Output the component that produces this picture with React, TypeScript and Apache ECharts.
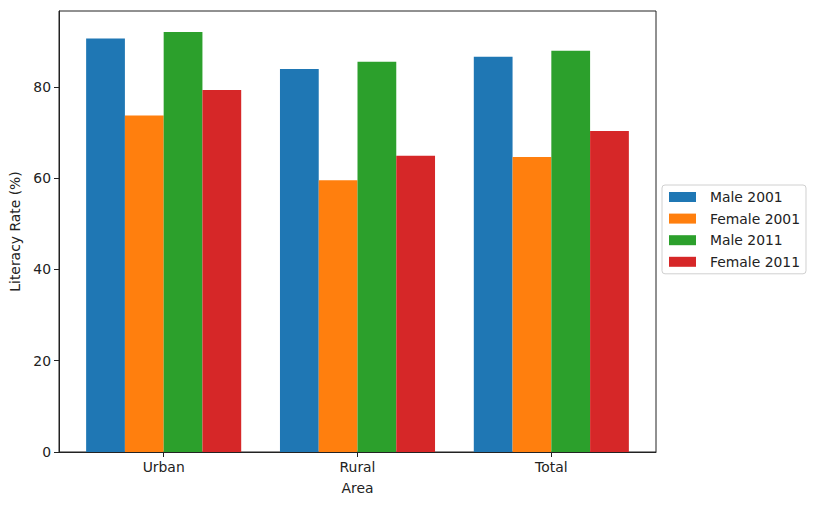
import React, { useEffect, useRef } from "react";
import * as echarts from "echarts";

const categories = ["Urban", "Rural", "Total"];
const seriesNames = ["Male 2001", "Female 2001", "Male 2011", "Female 2011"];
const male2001 = [90.6, 83.9, 86.6];
const female2001 = [73.7, 59.5, 64.6];
const male2011 = [92.0, 85.5, 87.9];
const female2011 = [79.3, 64.9, 70.3];
const yTicks = [0, 20, 40, 60, 80];
const colors = ["#1f77b4", "#ff7f0e", "#2ca02c", "#d62728"];

const FONT = "DejaVu Sans";

export default function App() {
  const ref = useRef<HTMLDivElement>(null);
  useEffect(() => {
    if (!ref.current) return;
    const chart = echarts.init(ref.current, null, { renderer: "svg" });
    const all = [male2001, female2001, male2011, female2011];
    const xIdx = categories.map((_, i) => i);
    const plotW = 597;
    const barW = (0.2 * plotW) / 3.08;
    chart.setOption({
      animation: false,
      textStyle: { fontFamily: FONT },
      grid: {
        left: 59,
        right: 162,
        top: 11,
        bottom: 55,
        show: true,
        borderColor: "#222",
        borderWidth: 1,
        backgroundColor: "transparent",
      },
      legend: {
        orient: "vertical",
        left: 662,
        top: 185,
        data: seriesNames,
        icon: "rect",
        itemWidth: 27,
        itemHeight: 10,
        itemGap: 7.6,
        padding: [5, 6, 5, 7],
        borderColor: "#d0d0d0",
        borderWidth: 1,
        borderRadius: 3,
        backgroundColor: "#fff",
        textStyle: { fontFamily: FONT, fontSize: 13.9, color: "#222", padding: [0, 0, 0, 9] },
      },
      xAxis: {
        type: "value",
        min: -0.54,
        max: 2.54,
        name: "Area",
        nameLocation: "middle",
        nameGap: 29,
        nameTextStyle: { fontFamily: FONT, fontSize: 13.9, color: "#222" },
        axisLine: { show: true, onZero: false, lineStyle: { color: "#222", width: 1 } },
        axisTick: { show: true, length: 5, customValues: xIdx, lineStyle: { color: "#222" } },
        axisLabel: {
          customValues: xIdx,
          formatter: (v: number) => categories[Math.round(v)] ?? "",
          fontFamily: FONT,
          fontSize: 13.9,
          color: "#222",
          margin: 8,
        },
        splitLine: { show: false },
      },
      yAxis: {
        type: "value",
        min: 0,
        max: 96.6,
        name: "Literacy Rate (%)",
        nameLocation: "middle",
        nameGap: 36,
        nameTextStyle: { fontFamily: FONT, fontSize: 13.9, color: "#222" },
        axisLine: { show: true, onZero: false, lineStyle: { color: "#222", width: 1 } },
        axisTick: { show: true, length: 5, customValues: yTicks, lineStyle: { color: "#222" } },
        axisLabel: {
          customValues: yTicks,
          fontFamily: FONT,
          fontSize: 13.9,
          color: "#222",
          margin: 8,
        },
        splitLine: { show: false },
      },
      series: all.map((vals, s) => ({
        name: seriesNames[s],
        type: "bar",
        barWidth: barW,
        barGap: "0%",
        itemStyle: { color: colors[s] },
        data: vals.map((v, i) => [i, v]),
      })),
    });
    return () => chart.dispose();
  }, []);
  return (
    <div
      ref={ref}
      style={{ position: "absolute", left: 0, top: 0, width: 818, height: 507, background: "#fff" }}
    />
  );
}
